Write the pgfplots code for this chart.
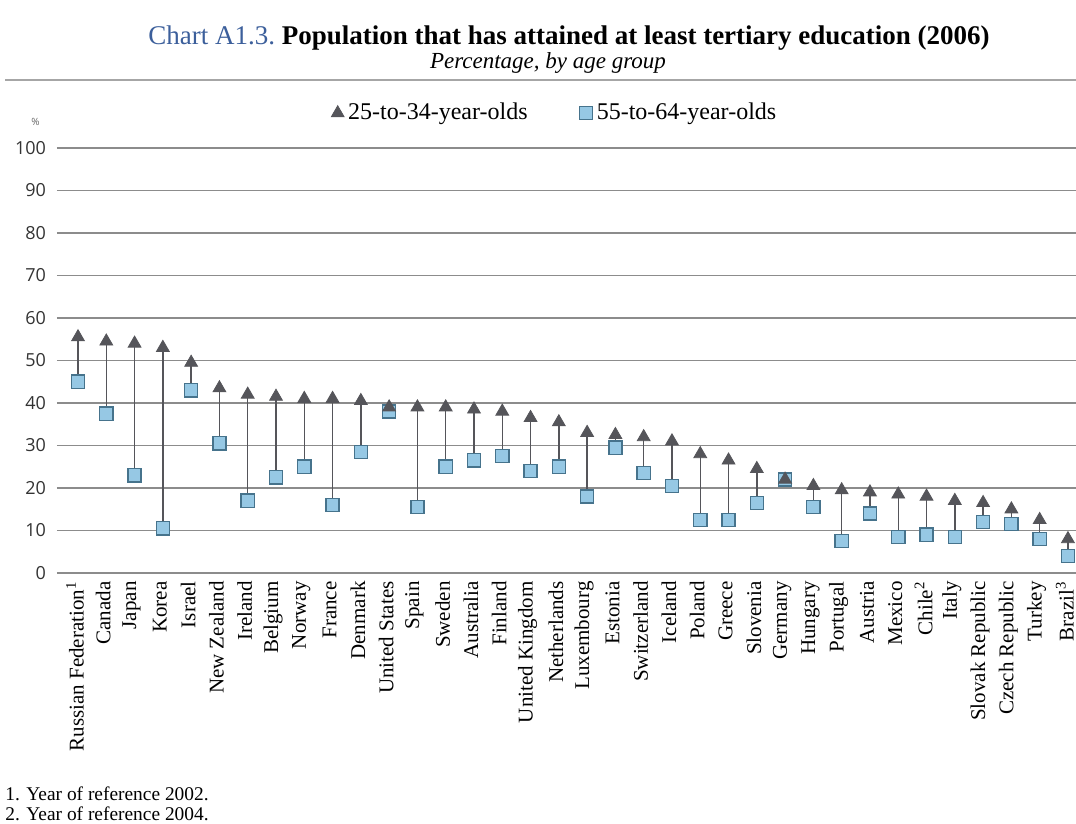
\documentclass[border=0pt]{standalone}
\usepackage{pgfplots}
\pgfplotsset{compat=1.18}
\usepackage{pgfplotstable}
\usepackage{fontspec}
\setmainfont{Liberation Serif}
\newfontfamily\tickfont{Open Sans}
\definecolor{titleblue}{RGB}{60,95,155}
\definecolor{trigray}{RGB}{85,85,90}
\definecolor{sqfill}{RGB}{150,200,228}
\definecolor{sqdraw}{RGB}{70,115,140}
\definecolor{gridgray}{RGB}{140,140,140}

\pgfplotstableread{
x young old
0 55.5 45
1 54.5 37.5
2 54 23
3 53 10.5
4 49.5 43
5 43.5 30.5
6 42 17
7 41.5 22.5
8 41 25
9 41 16
10 40.5 28.5
11 39 38
12 39 15.5
13 39 25
14 38.5 26.5
15 38 27.5
16 36.5 24
17 35.5 25
18 33 18
19 32.5 29.5
20 32 23.5
21 31 20.5
22 28 12.5
23 26.5 12.5
24 24.5 16.5
25 22 22
26 20.5 15.5
27 19.5 7.5
28 19 14
29 18.5 8.5
30 18 9
31 17 8.5
32 16.5 12
33 15 11.5
34 12.5 8
35 8 4
}\data

\begin{document}
\begin{tikzpicture}
\useasboundingbox (0,0) rectangle (538pt,412pt);
\begin{scope}[x=0.5pt,y=-0.5pt,yshift=412pt]
% title
\node[anchor=center, font=\fontsize{13.5}{15}\selectfont] at (569,38)
  {\textcolor{titleblue}{Chart A1.3.}\ \textbf{Population that has attained at least tertiary education (2006)}};
\node[anchor=center, font=\fontsize{11.5}{13}\selectfont\itshape] at (548,63) {Percentage, by age group};
\draw[gray!70, line width=1.3pt] (5,80) -- (1076,80);
% footnotes
\node[anchor=west, font=\fontsize{9.7}{11}\selectfont, inner sep=0pt] at (5,794) {1. Year of reference 2002.};
\node[anchor=west, font=\fontsize{9.7}{11}\selectfont, inner sep=0pt] at (5,814) {2. Year of reference 2004.};
\end{scope}
\begin{axis}[
  at={(28.5pt,125.5pt)}, anchor=south west,
  scale only axis, width=510pt, height=212.5pt,
  xmin=-0.743, xmax=35.32, ymin=0, ymax=100,
  axis line style={draw=none},
  ytick={0,10,...,100},
  ymajorgrids, major grid style={gridgray, line width=0.8pt},
  major tick length=0pt,
  yticklabel style={font=\fontsize{9}{10}\selectfont\tickfont, color=black!80, xshift=-2pt},
  /pgf/number format/assume math mode=true,
  xtick={0,...,35},
  xticklabels={Russian Federation\textsuperscript{1},Canada,Japan,Korea,Israel,New Zealand,Ireland,Belgium,Norway,France,Denmark,United States,Spain,Sweden,Australia,Finland,United Kingdom,Netherlands,Luxembourg,Estonia,Switzerland,Iceland,Poland,Greece,Slovenia,Germany,Hungary,Portugal,Austria,Mexico,Chile\textsuperscript{2},Italy,Slovak Republic,Czech Republic,Turkey,Brazil\textsuperscript{3}},
  xticklabel style={rotate=90, anchor=east, font=\fontsize{10.5}{11}\selectfont, inner sep=1pt, xshift=-3pt, yshift=1.5pt},
  clip=false,
  legend columns=2,
  legend style={at={(0.489,1.082)}, anchor=center, draw=none, fill=none, font=\fontsize{12}{13}\selectfont, /tikz/every even column/.append style={column sep=24pt}},
  legend cell align=left,
]
\addplot[draw=none, mark=none, forget plot, error bars/.cd, y dir=minus, y explicit, error mark=none, error bar style={trigray, line width=0.7pt}]
  table[x=x, y=young, y error expr=\thisrow{young}-\thisrow{old}] {\data};
\addplot[only marks, forget plot, mark=square*, mark size=3.3pt, mark options={fill=sqfill, draw=sqdraw, line width=0.7pt}]
  table[x=x, y=old] {\data};
\addplot[only marks, forget plot, mark=triangle*, mark size=3.7pt, mark options={fill=trigray, draw=trigray}]
  table[x=x, y=young] {\data};
\addlegendimage{only marks, mark=triangle*, mark size=3.7pt, mark options={fill=trigray, draw=trigray}}
\addlegendentry{25-to-34-year-olds}
\addlegendimage{only marks, mark=square*, mark size=3.3pt, mark options={fill=sqfill, draw=sqdraw, line width=0.7pt}}
\addlegendentry{55-to-64-year-olds}
\node[font=\fontsize{5}{6}\selectfont\tickfont, color=black!60] at (rel axis cs:-0.021,1.061) {\%};
\end{axis}
\end{tikzpicture}
\end{document}
